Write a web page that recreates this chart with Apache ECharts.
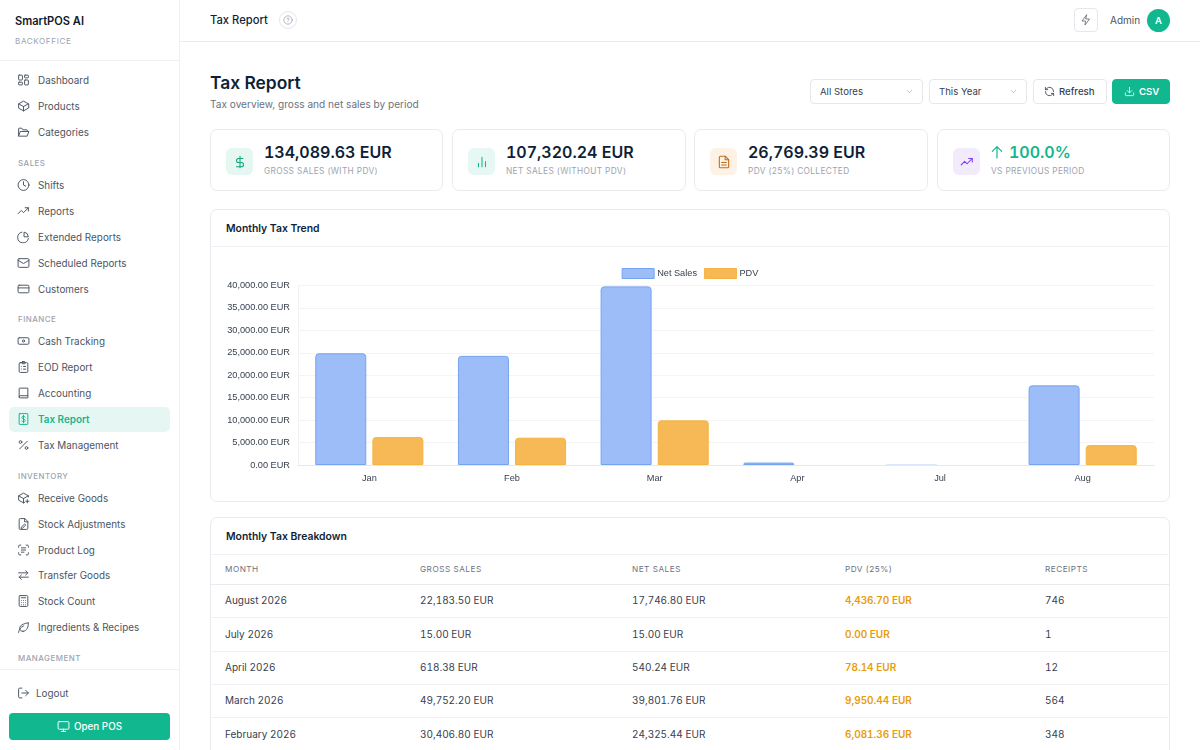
<!DOCTYPE html>
<html>
<head>
<meta charset="utf-8">
<title>Tax Report</title>
<script src="https://cdn.jsdelivr.net/npm/echarts@6/dist/echarts.min.js"></script>
<style>
  html, body { margin: 0; padding: 0; width: 1200px; height: 750px; overflow: hidden; background: #fff; }
  body { font-family: Inter, sans-serif; color: #0f1f38; position: relative; }
  .abs { position: absolute; white-space: nowrap; }
  .mid { transform: translateY(-50%); }
  svg { display: block; fill: none; stroke: currentColor; stroke-width: 1.8; stroke-linecap: round; stroke-linejoin: round; }
  #sidebar { position: absolute; left: 0; top: 0; width: 179px; height: 750px; border-right: 1px solid #eef0f3; background: #fff; }
  .nav-label { position: absolute; left: 38px; font-size: 9.9px; color: #4b5563; transform: translateY(-50%); white-space: nowrap; }
  .nav-head { position: absolute; left: 18px; font-size: 7.9px; font-weight: 500; letter-spacing: .5px; color: #9ca3af; transform: translateY(-50%); }
  .nav-icon { position: absolute; left: 17px; width: 13px; height: 13px; color: #4b5563; transform: translateY(-50%); }
  .card { position: absolute; box-sizing: border-box; background: #fff; border: 1px solid #e9ebef; border-radius: 7px; }
  .stat-icon { position: absolute; top: 18px; width: 27px; height: 27px; border-radius: 6px; display: flex; align-items: center; justify-content: center; }
  .stat-value { position: absolute; top: 22px; font-size: 16px; font-weight: 600; white-space: nowrap; transform: translateY(-50%); font-variant-numeric: tabular-nums; }
  .stat-label { position: absolute; top: 41px; font-size: 8.3px; letter-spacing: .35px; color: #9ca3af; white-space: nowrap; transform: translateY(-50%); }
  .btn { position: absolute; box-sizing: border-box; top: 79px; height: 25px; padding-bottom: 1px; border: 1px solid #e5e7eb; border-radius: 4px; font-size: 9.6px; color: #374151; display: flex; align-items: center; background: #fff; }
  .th { position: absolute; font-size: 8.2px; letter-spacing: .5px; color: #6b7280; transform: translateY(-50%); white-space: nowrap; }
  .td { position: absolute; font-size: 10px; color: #374151; transform: translateY(-50%); white-space: nowrap; font-variant-numeric: tabular-nums; }
  .rule { position: absolute; height: 1px; background: #eff1f4; }
</style>
</head>
<body>
<div id="sidebar"></div>
<div class="abs" style="left:180px;right:0;top:41px;height:1px;background:#e9ebef"></div>
<div class="abs mid" style="left:210px;top:20px;font-size:11.2px;font-weight:500;color:#0f1f38">Tax Report</div>
<div class="abs" style="left:279px;top:11px;width:18px;height:18px;border:1px solid #e5e7eb;border-radius:50%;box-sizing:border-box;color:#9ca3af;display:flex;align-items:center;justify-content:center">
  <svg width="10" height="10" viewBox="0 0 24 24"><circle cx="12" cy="12" r="10"/><path d="M9 9a3 3 0 0 1 5.8 1c0 2-3 3-3 3M12 17h.01"/></svg>
</div>
<div class="abs" style="left:1074px;top:8px;width:24px;height:24px;border:1px solid #e5e7eb;border-radius:4px;box-sizing:border-box;color:#6b7280;display:flex;align-items:center;justify-content:center">
  <svg width="12" height="12" viewBox="0 0 24 24"><path d="M13 2 4 14h7l-1 8 9-12h-7z"/></svg>
</div>
<div class="abs mid" style="left:1110px;top:20px;font-size:10px;color:#4b5563">Admin</div>
<div class="abs" style="left:1147px;top:9px;width:23px;height:23px;border-radius:50%;background:#10b78f;color:#fff;font-size:9.5px;font-weight:600;display:flex;align-items:center;justify-content:center">A</div>

<div class="abs mid" style="left:210px;top:82px;font-size:17.4px;font-weight:600;color:#0f1f38">Tax Report</div>
<div class="abs mid" style="left:210px;top:104px;font-size:10.1px;color:#6b7280">Tax overview, gross and net sales by period</div>

<div class="btn" style="left:810px;width:113px;padding-left:9px">All Stores
  <svg style="position:absolute;right:8px;color:#9ca3af" width="9" height="9" viewBox="0 0 24 24"><path d="m6 9 6 6 6-6"/></svg></div>
<div class="btn" style="left:929px;width:98px;padding-left:9px">This Year
  <svg style="position:absolute;right:8px;color:#9ca3af" width="9" height="9" viewBox="0 0 24 24"><path d="m6 9 6 6 6-6"/></svg></div>
<div class="btn" style="left:1033px;width:74px;padding-left:10px;font-weight:500">
  <svg style="margin-right:4px" width="11" height="11" viewBox="0 0 24 24"><path d="M21 12a9 9 0 0 0-15.5-6.3L3 8M3 3v5h5M3 12a9 9 0 0 0 15.5 6.3L21 16M21 21v-5h-5"/></svg>Refresh</div>
<div class="btn" style="left:1112px;width:58px;padding-left:11px;background:#10b78f;border-color:#10b78f;color:#fff;font-weight:600">
  <svg style="margin-right:4px" width="11" height="11" viewBox="0 0 24 24"><path d="M21 15v4a2 2 0 0 1-2 2H5a2 2 0 0 1-2-2v-4M7 10l5 5 5-5M12 15V3"/></svg>CSV</div>

<div id="stats"></div>

<div class="card" style="left:210px;top:209px;width:960px;height:293px"></div>
<div class="abs mid" style="left:226px;top:228px;font-size:10.4px;font-weight:600;color:#0f1f38">Monthly Tax Trend</div>
<div class="rule" style="left:211px;width:958px;top:246px"></div>
<div id="main" class="abs" style="left:211px;top:247px;width:958px;height:254px"></div>

<div class="card" style="left:210px;top:517px;width:960px;height:260px"></div>
<div class="abs mid" style="left:226px;top:536px;font-size:10.4px;font-weight:600;color:#0f1f38">Monthly Tax Breakdown</div>
<div id="table"></div>

<script>
// chart data
const months = ["Jan", "Feb", "Mar", "Apr", "Jul", "Aug"]
const netSales = [24891.00, 24325.44, 39801.76, 540.24, 15.00, 17746.80]
const pdv = [6222.75, 6081.36, 9950.44, 78.14, 0.00, 4436.70]
const yTicks = { min: 0, max: 40000, interval: 5000 }

// table data
const tableHead = ["MONTH", "GROSS SALES", "NET SALES", "PDV (25%)", "RECEIPTS"]
const tableMonths = ["August 2026", "July 2026", "April 2026", "March 2026", "February 2026"]
const tableGross = ["22,183.50 EUR", "15.00 EUR", "618.38 EUR", "49,752.20 EUR", "30,406.80 EUR"]
const tableNet = ["17,746.80 EUR", "15.00 EUR", "540.24 EUR", "39,801.76 EUR", "24,325.44 EUR"]
const tablePdv = ["4,436.70 EUR", "0.00 EUR", "78.14 EUR", "9,950.44 EUR", "6,081.36 EUR"]
const tableReceipts = ["746", "1", "12", "564", "348"]

// sidebar
const icons = {
  grid: '<rect x="3" y="3" width="7" height="9" rx="1"/><rect x="14" y="3" width="7" height="5" rx="1"/><rect x="14" y="12" width="7" height="9" rx="1"/><rect x="3" y="16" width="7" height="5" rx="1"/>',
  box: '<path d="M21 8 12 3 3 8v8l9 5 9-5z"/><path d="m3 8 9 5 9-5M12 13v8"/>',
  folder: '<path d="M3 19V6a1 1 0 0 1 1-1h5l2 3h7a1 1 0 0 1 1 1v2"/><path d="M3 19l3-8h16l-3 8z"/>',
  clock: '<circle cx="12" cy="12" r="10"/><path d="M12 6v6l4 2"/>',
  trend: '<path d="m2 17 6-6 4 4 9-9"/><path d="M15 6h6v6"/>',
  pie: '<path d="M21 15A10 10 0 1 1 9 3"/><path d="M21 11A9 9 0 0 0 13 3v8z"/>',
  mail: '<rect x="2" y="4" width="20" height="16" rx="2"/><path d="m2 7 10 6 10-6"/>',
  card: '<rect x="2" y="5" width="20" height="14" rx="2"/><path d="M2 10h20"/>',
  cash: '<rect x="2" y="6" width="20" height="12" rx="2"/><circle cx="12" cy="12" r="2"/>',
  clip: '<rect x="4" y="4" width="16" height="18" rx="2"/><rect x="9" y="2" width="6" height="4" rx="1"/><path d="M8 11h.01M12 11h4M8 16h.01M12 16h4"/>',
  book: '<path d="M4 20V4a1 1 0 0 1 1-1h15v18H6a2 2 0 0 1-2-2 2 2 0 0 1 2-2h14"/>',
  tax: '<rect x="4" y="2" width="16" height="20" rx="1"/><path d="M15 8.5c-.5-1-1.500-1.500-3-1.500-2 0-3 1-3 2.300C9 12.500 15 11.500 15 14.700 15 16 14 17 12 17c-1.500 0-2.500-.5-3-1.500M12 5v14"/>',
  percent: '<path d="M19 5 5 19"/><circle cx="6.500" cy="6.500" r="2.500"/><circle cx="17.500" cy="17.500" r="2.500"/>',
  receive: '<path d="M21 10V8l-9-5-9 5v8l9 5 2-1"/><path d="m3 8 9 5 9-5M12 13v8M19 15v6M16 18h6"/>',
  adjust: '<path d="M14 2H6a2 2 0 0 0-2 2v16a2 2 0 0 0 2 2h12a2 2 0 0 0 2-2V8z"/><path d="M14 2v6h6M8 18l6-6 2 2-6 6H8z"/>',
  scan: '<path d="M3 7V5a2 2 0 0 1 2-2h2M17 3h2a2 2 0 0 1 2 2v2M21 17v2a2 2 0 0 1-2 2h-2M7 21H5a2 2 0 0 1-2-2v-2M8 8h8M8 12h8M8 16h5"/>',
  transfer: '<path d="M3 8h17M16 4l4 4-4 4M21 16H4M8 12l-4 4 4 4"/>',
  calc: '<rect x="4" y="2" width="16" height="20" rx="2"/><path d="M8 6h8M8 11h.01M12 11h.01M16 11h.01M8 15h.01M12 15h.01M16 15h.01M8 19h.01M12 19h.01M16 19h.01"/>',
  leaf: '<path d="M3 22c1-6 4-10 9-12"/><path d="M11 20C5 20 4 15 6 11c2-4 8-5 15-7 0 7-2 16-10 16z"/>',
  logout: '<path d="M9 21H5a2 2 0 0 1-2-2V5a2 2 0 0 1 2-2h4M16 17l5-5-5-5M21 12H9"/>',
  monitor: '<rect x="2" y="3" width="20" height="14" rx="2"/><path d="M8 21h8M12 17v4"/>'
}
const navItems = [
  ["Dashboard", 80, "grid"], ["Products", 106, "box"], ["Categories", 132, "folder"],
  ["Shifts", 185, "clock"], ["Reports", 211, "trend"], ["Extended Reports", 237, "pie"],
  ["Scheduled Reports", 263, "mail"], ["Customers", 289, "card"],
  ["Cash Tracking", 341, "cash"], ["EOD Report", 367, "clip"], ["Accounting", 393, "book"],
  ["Tax Report", 419, "tax"], ["Tax Management", 445, "percent"],
  ["Receive Goods", 498, "receive"], ["Stock Adjustments", 524, "adjust"], ["Product Log", 550, "scan"],
  ["Transfer Goods", 575, "transfer"], ["Stock Count", 601, "calc"], ["Ingredients & Recipes", 627, "leaf"]
]
const navHeads = [["SALES", 163], ["FINANCE", 319], ["INVENTORY", 476], ["MANAGEMENT", 658]]

const icon = (name, size) =>
  `<svg width="${size}" height="${size}" viewBox="0 0 24 24">${icons[name]}</svg>`

let side = `
  <div class="abs mid" style="left:15px;top:21px;font-size:11.1px;font-weight:600;color:#111827">SmartPOS AI</div>
  <div class="abs mid" style="left:15px;top:41px;font-size:8.1px;letter-spacing:.6px;color:#9ca3af">BACKOFFICE</div>
  <div class="rule" style="left:0;width:179px;top:60px"></div>
  <div class="abs" style="left:9px;top:407px;width:161px;height:25px;border-radius:5px;background:#e6f7f3"></div>`
navHeads.forEach(h => {
  side += `<div class="nav-head" style="top:${h[1]}px">${h[0]}</div>`
})
navItems.forEach(n => {
  const active = n[0] === "Tax Report"
  const color = active ? "color:#10b78f;" : ""
  const weight = active ? "font-weight:600;" : ""
  side += `<div class="nav-icon" style="top:${n[1]}px;${color}">${icon(n[2], 13)}</div>`
  side += `<div class="nav-label" style="top:${n[1]}px;${color}${weight}">${n[0].replace("&", "&amp;")}</div>`
})
side += `
  <div class="rule" style="left:0;width:179px;top:669px"></div>
  <div class="nav-icon" style="top:693px">${icon("logout", 13)}</div>
  <div class="nav-label" style="left:36px;top:693px">Logout</div>
  <div class="abs" style="left:9px;top:713px;width:161px;height:27px;border-radius:4px;background:#10b78f;color:#fff;display:flex;align-items:center;justify-content:center;font-size:9.8px;font-weight:500">
    <span style="margin-right:4px">${icon("monitor", 13)}</span>Open POS</div>`
document.getElementById("sidebar").innerHTML = side

// stat cards
const statValues = ["134,089.63 EUR", "107,320.24 EUR", "26,769.39 EUR", "100.0%"]
const statLabels = ["GROSS SALES (WITH PDV)", "NET SALES (WITHOUT PDV)", "PDV (25%) COLLECTED", "VS PREVIOUS PERIOD"]
const statBox = [[210, 233], [452, 234], [694, 234], [937, 233]]
const statTint = ["#e6f7f1", "#e6f7f4", "#fdf2e3", "#f1ebfd"]
const statInk = ["#10a37f", "#10b78f", "#c2691c", "#7c3aed"]
const statIcons = [
  '<path d="M12 2v20M17 6H9.500a3.500 3.500 0 0 0 0 7h5a3.500 3.500 0 0 1 0 7H6"/>',
  '<path d="M6 20v-6M12 20V4M18 20v-9"/>',
  '<path d="M14 2H6a2 2 0 0 0-2 2v16a2 2 0 0 0 2 2h12a2 2 0 0 0 2-2V8z"/><path d="M14 2v6h6M8 13h8M8 17h8"/>',
  icons.trend
]
document.getElementById("stats").innerHTML = statValues.map((v, i) => {
  const up = i === 3
  const arrow = up ? '<svg style="display:inline-block;vertical-align:-2px;margin:0 4px 0 -2px" width="16" height="16" viewBox="0 0 24 24" stroke-width="2.400"><path d="M12 21V4M5 11l7-7 7 7"/></svg>' : ""
  return `<div class="card" style="left:${statBox[i][0]}px;top:129px;width:${statBox[i][1]}px;height:62px">
    <div class="stat-icon" style="left:15px;background:${statTint[i]};color:${statInk[i]}">
      <svg width="14" height="14" viewBox="0 0 24 24">${statIcons[i]}</svg></div>
    <div class="stat-value" style="left:53px;${up ? "color:#10b78f" : ""}">${arrow}${v}</div>
    <div class="stat-label" style="left:53px">${statLabels[i]}</div></div>`
}).join("")

// breakdown table
const colX = [225, 420, 632, 845, 1045]
const rowY = [600, 633.5, 667, 700, 733.5]
let tbl = `<div class="rule" style="left:211px;width:958px;top:554px"></div>
  <div class="rule" style="left:211px;width:958px;top:584px;background:#e9ebef"></div>`
tableHead.forEach((h, i) => {
  tbl += `<div class="th" style="left:${colX[i]}px;top:569px">${h}</div>`
})
rowY.forEach((y, r) => {
  const cells = [tableMonths[r], tableGross[r], tableNet[r], tablePdv[r], tableReceipts[r]]
  cells.forEach((c, i) => {
    const pdvCol = i === 3 ? "color:#e89c0c;font-weight:600;" : ""
    tbl += `<div class="td" style="left:${colX[i]}px;top:${y}px;${pdvCol}">${c}</div>`
  })
  if (r < rowY.length - 1) tbl += `<div class="rule" style="left:211px;width:958px;top:${y + 17}px"></div>`
})
document.getElementById("table").innerHTML = tbl

// chart
const chartFont = "'Liberation Sans', Arial, sans-serif"
const myChart = echarts.init(document.getElementById("main"), null, { renderer: "canvas" })
myChart.setOption({
  animation: false,
  textStyle: { fontFamily: chartFont },
  legend: {
    top: 16,
    left: "center",
    icon: "rect",
    itemWidth: 32,
    itemHeight: 10,
    itemGap: 7,
    itemStyle: { borderWidth: 1 },
    textStyle: { fontSize: 9.2, color: "#374151", fontFamily: chartFont, padding: [0, 0, 0, -2] },
    data: ["Net Sales", "PDV"]
  },
  grid: { left: 87, right: 15, top: 38.5, bottom: 36, containLabel: false },
  xAxis: {
    type: "category",
    data: months,
    z: 3,
    axisTick: { show: false },
    axisLine: { lineStyle: { color: "#e5e7eb", width: 1 } },
    axisLabel: { fontSize: 9.2, color: "#374151", margin: 9, fontFamily: chartFont }
  },
  yAxis: {
    type: "value",
    min: yTicks.min,
    max: yTicks.max,
    interval: yTicks.interval,
    axisTick: { show: false },
    axisLine: { show: true, lineStyle: { color: "#f1f2f4", width: 1 } },
    splitLine: { lineStyle: { color: "#f3f4f6", width: 1 } },
    axisLabel: {
      fontSize: 9.2,
      color: "#374151",
      margin: 8,
      fontFamily: chartFont,
      formatter: v => v.toLocaleString("en-US", { minimumFractionDigits: 2, maximumFractionDigits: 2 }) + " EUR"
    }
  },
  series: [
    {
      name: "Net Sales",
      type: "bar",
      // the sub-pixel Jul bar is only a faint line in the reference
      data: netSales.map(v => (v < 100 ? { value: v, itemStyle: { borderColor: "#d3e1fc" } } : v)),
      barWidth: 51,
      barGap: "12%",
      itemStyle: { color: "#9dbdf8", borderColor: "#74a3ef", borderWidth: 1, borderRadius: [3, 3, 0, 0] }
    },
    {
      name: "PDV",
      type: "bar",
      // Apr and Jul leave no visible mark in the reference
      data: pdv.map(v => (v < 100 ? { value: v, itemStyle: { opacity: 0 } } : v)),
      barWidth: 51,
      itemStyle: { color: "#f7b955", borderColor: "#f6b443", borderWidth: 1, borderRadius: [3, 3, 0, 0] }
    }
  ]
})
</script>
</body>
</html>
